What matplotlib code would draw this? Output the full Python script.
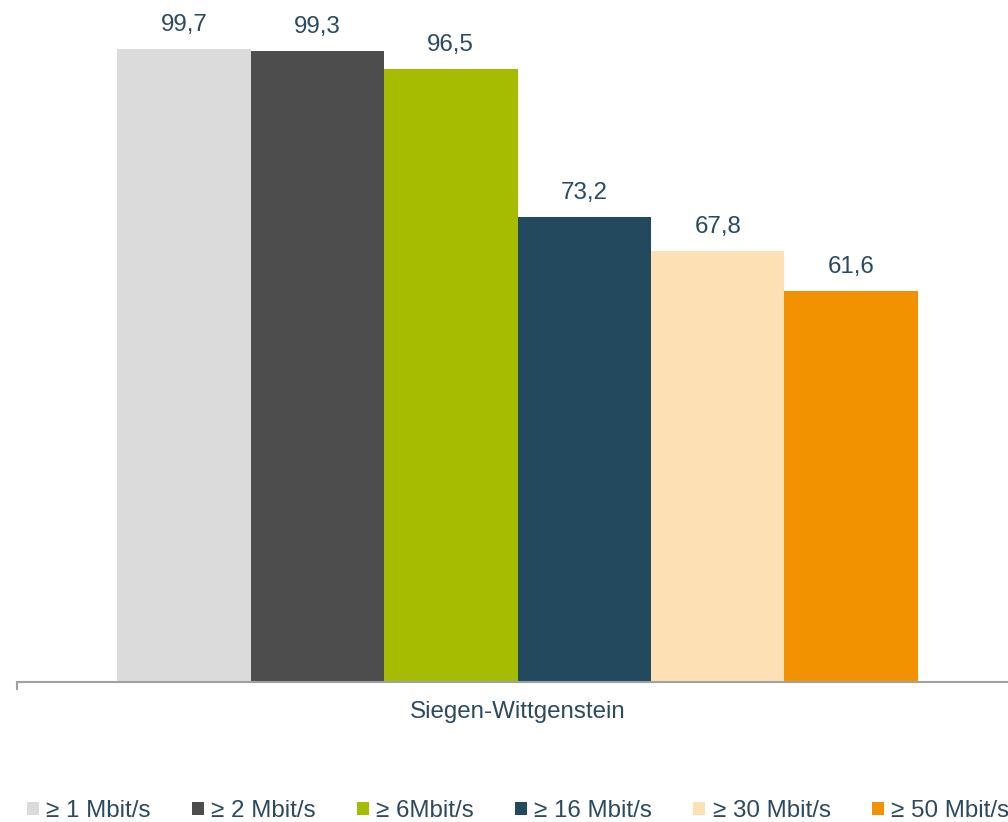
import matplotlib.pyplot as plt
import numpy as np

plt.rcParams['font.family'] = ['Liberation Sans', 'DejaVu Sans']

region = 'Siegen-Wittgenstein'
speeds = ['≥ 1 Mbit/s', '≥ 2 Mbit/s', '≥ 6Mbit/s', '≥ 16 Mbit/s', '≥ 30 Mbit/s', '≥ 50 Mbit/s']
values = [99.7, 99.3, 96.5, 73.2, 67.8, 61.6]
colors = ['#DBDBDB', '#4D4D4D', '#A5BC00', '#23495F', '#FDE1B4', '#F39200']
textColor = '#2B4A60'
fs = 17.4

fig = plt.figure(figsize=(10.08, 8.22), dpi=100)
# axes spans slightly past the right edge, like the original
ax = fig.add_axes([17 / 1008, 140 / 822, 1001 / 1008, 682 / 822])

n = len(values)
groupWidth = 0.8
w = groupWidth / n
x = -groupWidth / 2 + w * (np.arange(n) + 0.5)

for i in range(n):
    ax.bar(x[i], values[i], width=w, color=colors[i], label=speeds[i])
    ax.text(x[i], values[i] + 3.8, f'{values[i]:.1f}'.replace('.', ','),
            ha='center', va='center', fontsize=fs, color=textColor)

ax.set_xlim(-0.5, 0.5)
ax.set_ylim(0, 682 / 6.35)

for s in ['top', 'right', 'left']:
    ax.spines[s].set_visible(False)
ax.spines['bottom'].set_color('#A0A0A0')
ax.spines['bottom'].set_linewidth(1.5)
ax.set_yticks([])
ax.set_xticks([-0.5])
ax.set_xticklabels([''])
ax.tick_params(axis='x', length=6, width=1.5, color='#A0A0A0')
ax.text(0, -4.8, region, ha='center', va='center', fontsize=fs, color=textColor)

leg = fig.legend(loc='center', bbox_to_anchor=(518 / 1008, 11 / 822), ncol=6, frameon=False,
                 handlelength=0.5, handleheight=0.5, handletextpad=0.3,
                 columnspacing=1.7, fontsize=fs, borderaxespad=0)
for t in leg.get_texts():
    t.set_color(textColor)

fig.savefig('out.png', dpi=100)
